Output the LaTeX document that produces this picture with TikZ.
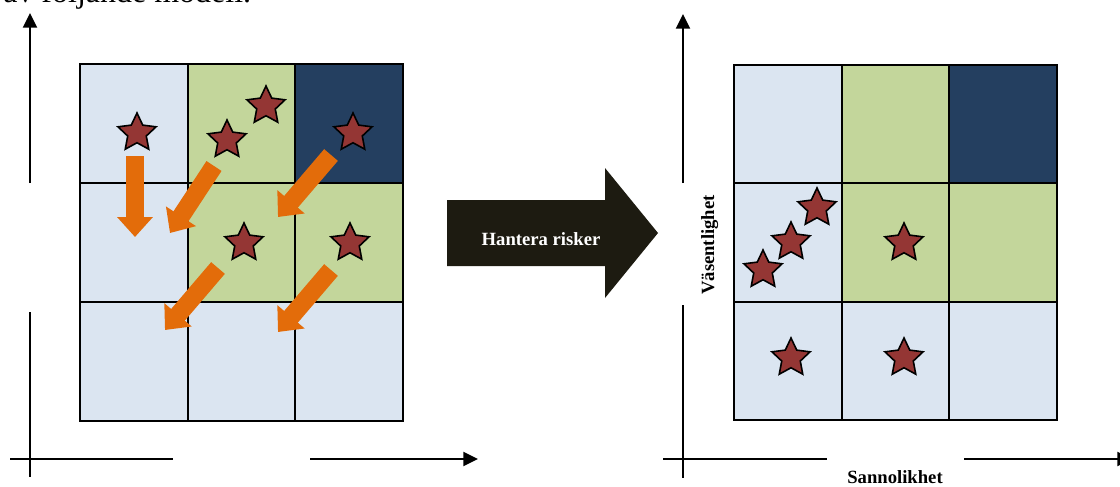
\documentclass[tikz,border=0pt]{standalone}
\usepackage{fontspec}
\setmainfont{Liberation Serif}
\usetikzlibrary{shapes.geometric,arrows.meta}

\definecolor{cellblue}{HTML}{DBE5F1}
\definecolor{cellgreen}{HTML}{C3D69B}
\definecolor{cellnavy}{HTML}{243F60}
\definecolor{riskred}{HTML}{943634}
\definecolor{moveorange}{HTML}{E36C0A}
\definecolor{actionblack}{HTML}{1D1B11}

\tikzset{
  cell/.style={draw=black, line width=1.4pt},
  gridframe/.style={draw=black, line width=1.8pt},
  riskstar/.style={star, star points=5, star point ratio=2.05, minimum size=30pt,
    inner sep=0pt, fill=riskred, draw=black, line width=1.2pt},
  riskmove/.style={draw=moveorange, line width=13.5pt,
    -{Triangle[length=15pt, width=26pt]}},
  axisline/.style={draw=black, line width=1.5pt},
  axisarrow/.style={axisline, -{Triangle[length=11pt, width=10.5pt]}},
  axislabel/.style={font=\fontsize{14}{16}\selectfont\bfseries, inner sep=0pt},
}

\begin{document}
\begin{tikzpicture}[x=0.75pt, y=-0.75pt]
\useasboundingbox (0,0) rectangle (1120,486);

% line of running text above the figure
\node[anchor=base west, inner sep=0pt, font=\fontsize{24}{28}\selectfont] (intro) at (3,2) {av följande modell.};

% risk matrices: before (left) and after (right)
\foreach \c/\r/\col in {0/0/cellblue, 1/0/cellgreen, 2/0/cellnavy,
                        0/1/cellblue, 1/1/cellgreen, 2/1/cellgreen,
                        0/2/cellblue, 1/2/cellblue, 2/2/cellblue}{
  \filldraw[cell, fill=\col] ({80+107.67*\c},{64+119*\r}) rectangle +(107.67,119);
  \filldraw[cell, fill=\col] ({734+107.67*\c},{65+118.33*\r}) rectangle +(107.67,118.33);
}
\draw[gridframe] (80,64) rectangle (403,421);
\draw[gridframe] (734,65) rectangle (1057,420);

% risks before handling
\node[riskstar] (b1) at (137,133) {};
\node[riskstar] (b2) at (227,140) {};
\node[riskstar] (b3) at (266,106) {};
\node[riskstar] (b4) at (353,133) {};
\node[riskstar] (b5) at (244,243) {};
\node[riskstar] (b6) at (350,243) {};

% how the risks move
\coordinate (m1s) at (135,156); \coordinate (m1e) at (135,237);
\coordinate (m2s) at (214,166); \coordinate (m2e) at (170,233);
\coordinate (m3s) at (331,155); \coordinate (m3e) at (278,217);
\coordinate (m4s) at (218,268); \coordinate (m4e) at (165,330);
\coordinate (m5s) at (331,270); \coordinate (m5e) at (278,332);
\draw[riskmove] (m1s) -- (m1e);
\draw[riskmove] (m2s) -- (m2e);
\draw[riskmove] (m3s) -- (m3e);
\draw[riskmove] (m4s) -- (m4e);
\draw[riskmove] (m5s) -- (m5e);

% risks after handling
\node[riskstar] (a1) at (763,270) {};
\node[riskstar] (a2) at (791,242) {};
\node[riskstar] (a3) at (817,208) {};
\node[riskstar] (a4) at (904,243) {};
\node[riskstar] (a5) at (791,358) {};
\node[riskstar] (a6) at (904,358) {};

% block arrow between the matrices
\fill[actionblack] (447,200) -- (605,200) -- (605,168) -- (658,233)
  -- (605,298) -- (605,266) -- (447,266) -- cycle;
\node[axislabel, text=white, anchor=base] (handle) at (541,245) {Hantera risker};

% left axes
\coordinate (ly0) at (30,183); \coordinate (ly1) at (30,13);
\coordinate (lx0) at (310,459); \coordinate (lx1) at (478,459);
\draw[axisarrow] (ly0) -- (ly1);
\draw[axisline] (30,312) -- (30,477);
\draw[axisline] (10,459) -- (173,459);
\draw[axisarrow] (lx0) -- (lx1);

% right axes
\coordinate (ry0) at (683,183); \coordinate (ry1) at (683,14);
\coordinate (rx0) at (964,459); \coordinate (rx1) at (1132,459);
\draw[axisarrow] (ry0) -- (ry1);
\draw[axisline] (683,305) -- (683,478);
\draw[axisline] (663,459) -- (827,459);
\draw[axisarrow] (rx0) -- (rx1);

\node[axislabel, rotate=90, anchor=base] (vas) at (714,245) {Väsentlighet};
\node[axislabel, anchor=base] (sann) at (895,483.5) {Sannolikhet};
\end{tikzpicture}
\end{document}
